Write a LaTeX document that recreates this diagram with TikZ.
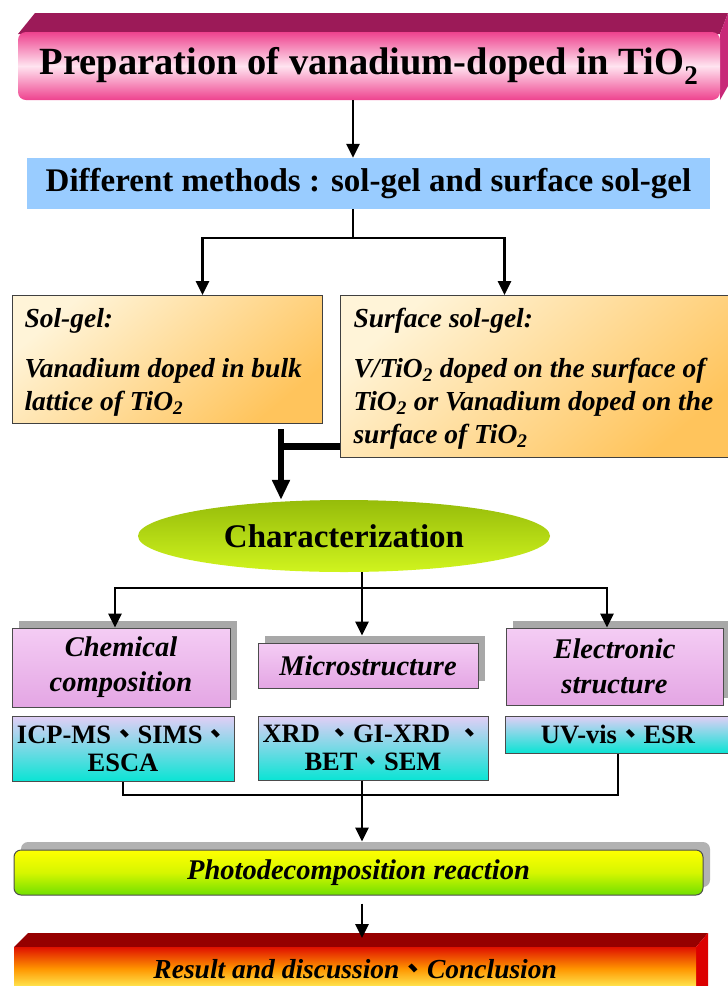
\documentclass[tikz,border=0pt]{standalone}
\usepackage{fontspec}
\setmainfont{Liberation Serif}
\newfontfamily\cjk{Noto Sans CJK TC}
\usetikzlibrary{arrows.meta,shapes.geometric,shadows}

\newcommand{\dun}{{\cjk 、}}

\definecolor{magtop}{RGB}{156,26,88}
\definecolor{magside}{RGB}{200,40,120}
\definecolor{pinkedge}{RGB}{238,66,142}
\definecolor{pinkmid}{RGB}{255,228,240}
\definecolor{methblue}{RGB}{153,204,255}
\definecolor{orlight}{RGB}{255,244,216}
\definecolor{ordark}{RGB}{255,196,92}
\definecolor{olivetop}{RGB}{150,188,10}
\definecolor{limebot}{RGB}{208,244,30}
\definecolor{plumtop}{RGB}{244,204,244}
\definecolor{plumbot}{RGB}{228,166,228}
\definecolor{lavtop}{RGB}{226,206,246}
\definecolor{cyanbot}{RGB}{10,228,212}
\definecolor{photobot}{RGB}{112,224,0}
\definecolor{resred}{RGB}{224,18,0}
\definecolor{resorange}{RGB}{255,150,0}
\definecolor{resyellow}{RGB}{255,246,96}
\definecolor{restop}{RGB}{150,0,0}
\definecolor{resside}{RGB}{220,0,0}

\begin{document}
\begin{tikzpicture}[x=1pt,y=-1pt,
    link/.style={line width=2.6pt},
    linkto/.style={link,-{Triangle[length=14pt,width=13pt]}},
    fat/.style={line width=7pt},
    fatto/.style={line width=6pt,-{Triangle[length=20pt,width=17pt]}},
    titlebar/.style={rounded corners=8pt,top color=pinkedge,bottom color=pinkedge,middle color=pinkmid,
      font=\fontsize{38.5}{42}\selectfont\bfseries},
    methodbox/.style={draw=black!75,line width=1pt,top color=orlight,bottom color=ordark,shading angle=40},
    methodtext/.style={align=left,font=\fontsize{27.5}{33}\selectfont\bfseries\itshape},
    kindbox/.style={draw=black!70,line width=1pt,top color=plumtop,bottom color=plumbot,
      drop shadow={shadow xshift=7pt,shadow yshift=7pt,fill=black!34,opacity=1},
      align=center,font=\fontsize{28.5}{35}\selectfont\bfseries\itshape},
    toolbox/.style={draw=black!70,line width=1pt,top color=lavtop,middle color=white,bottom color=cyanbot,
      align=center,font=\fontsize{26.5}{28}\selectfont\bfseries}
  ]
      \useasboundingbox (0,0) rectangle (728,986);

      \fill[magtop] (35,13) -- (728,13) -- (720,34) -- (18,34) -- cycle;
      \fill[magside] (720,34) -- (728,13) -- (728,86) -- (720,100) -- cycle;
      \node[titlebar,minimum width=702pt,minimum height=68pt] (prep) at (369,66)
        {Preparation of vanadium-doped in TiO\textsubscript{2}};

      \node[fill=methblue,minimum width=683pt,minimum height=51pt,
        font=\fontsize{33}{35}\selectfont\bfseries] (meth) at (368.5,183.5)
        {Different methods : sol-gel and surface sol-gel};

      \node[methodbox,minimum width=310pt,minimum height=128pt,anchor=north west] (sol) at (12,295) {};
      \node[methodtext,anchor=base west] (soltext) at (21,410)
        {Sol-gel:\\[17pt]Vanadium doped in bulk\\lattice of TiO\textsubscript{2}};
      \node[methodbox,minimum width=392pt,minimum height=162pt,anchor=north west] (surf) at (340,295) {};
      \node[methodtext,anchor=base west] (surftext) at (350,443)
        {Surface sol-gel:\\[17pt]V/TiO\textsubscript{2} doped on the surface of\\TiO\textsubscript{2} or Vanadium doped on the\\surface of TiO\textsubscript{2}};

      \node[ellipse,minimum width=412pt,minimum height=72pt,inner sep=0pt,
        top color=olivetop,bottom color=limebot,
        font=\fontsize{33}{35}\selectfont\bfseries] (char) at (344,536) {Characterization};

      \node[kindbox,minimum width=218pt,minimum height=79pt] (chem) at (121,667.5) {Chemical\\composition};
      \node[kindbox,minimum width=220pt,minimum height=45pt] (micro) at (368,665.5) {Microstructure};
      \node[kindbox,minimum width=217pt,minimum height=77pt] (elec) at (614.5,666.5) {Electronic\\structure};

      \node[toolbox,minimum width=222pt,minimum height=65pt] (icp) at (123,748.5) {ICP-MS\dun SIMS\dun\\ESCA};
      \node[toolbox,minimum width=230pt,minimum height=64pt] (xrd) at (373,748) {XRD \dun GI-XRD \dun\\BET\dun SEM};
      \node[toolbox,minimum width=226pt,minimum height=37pt] (uv) at (618,734.5) {UV-vis\dun ESR};

      \node[rounded corners=7pt,draw=black!70,line width=1pt,top color=yellow,bottom color=photobot,
        middle color={rgb,255:red,214;green,246;blue,0},
        drop shadow={shadow xshift=7pt,shadow yshift=8pt,fill=black!30,opacity=1},
        minimum width=689pt,minimum height=45pt,
        font=\fontsize{28.5}{30}\selectfont\bfseries\itshape] (photo) at (358.5,872.5) {Photodecomposition reaction};

      \fill[restop] (28,933) -- (708,933) -- (696,947) -- (14,947) -- cycle;
      \fill[resside] (696,947) -- (708,933) -- (708,986) -- (696,990) -- cycle;
      \node[top color=resred,bottom color=resyellow,middle color=resorange,
        minimum width=682pt,minimum height=43pt,anchor=north west,
        font=\fontsize{27.5}{29}\selectfont\bfseries\itshape] (res) at (14,947)
        {Result and discussion\dun Conclusion};

      \coordinate (topspine) at (353,0);
      \coordinate (fork) at (353,238);
      \coordinate (tee) at (281,446);
      \coordinate (cfork) at (362,588);
      \coordinate (join) at (362,795);

      \draw[linkto] (prep.south -| topspine) -- (meth.north -| topspine);
      \draw[linkto] (meth.south -| fork) -- (fork) -| ([xshift=35pt]sol.north);
      \draw[linkto] (fork) -| ([xshift=-32pt]surf.north);
      \draw[fat] (surf.west |- tee) -- (tee);
      \draw[fatto] ([yshift=-5pt]sol.south -| tee) -- (char.north -| tee);
      \draw[link] (char.south -| cfork) -- (cfork);
      \draw[linkto] (cfork) -| ([xshift=-6pt]chem.north);
      \draw[linkto] (cfork) -| ([xshift=-7.5pt]elec.north);
      \draw[linkto] (cfork) -- ([yshift=7pt]micro.north -| cfork);
      \draw[link] (icp.south) |- (join) -| (uv.south);
      \draw[linkto] (xrd.south -| join) -- ([yshift=8pt]photo.north -| join);
      \draw[linkto] ([yshift=-8pt]photo.south -| join) -- ([yshift=9pt]res.north -| join);
\end{tikzpicture}
\end{document}
